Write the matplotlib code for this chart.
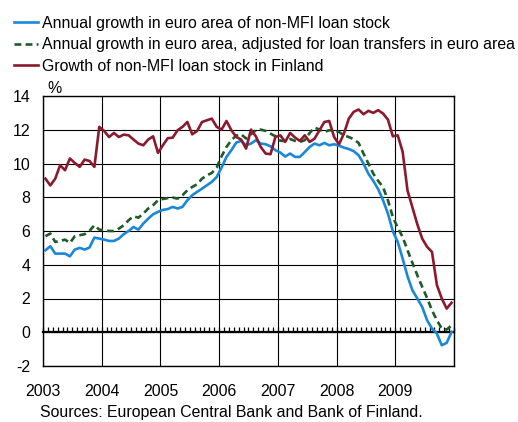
import numpy as np
import matplotlib as mpl
import matplotlib.pyplot as plt
from matplotlib.ticker import FixedLocator, NullFormatter

plt.rcParams['font.family'] = ['Liberation Sans', 'DejaVu Sans']

# monthly data, Jan 2003 - Dec 2009
months = 2003 + (np.arange(84) + 0.5) / 12

euro_area = [4.86, 5.1, 4.66, 4.66, 4.66, 4.5, 4.9, 5.0, 4.9, 5.02, 5.61, 5.55,
             5.49, 5.41, 5.41, 5.55, 5.81, 6.0, 6.24, 6.08, 6.44, 6.73, 6.99, 7.13,
             7.25, 7.3, 7.43, 7.33, 7.43, 7.82, 8.12, 8.32, 8.51, 8.71, 8.91, 9.2,
             9.76, 10.39, 10.79, 11.24, 11.34, 11.08, 11.18, 11.38, 11.18, 11.14, 11.02, 10.79,
             10.65, 10.41, 10.59, 10.39, 10.39, 10.68, 10.98, 11.18, 11.08, 11.22, 11.08, 11.14,
             11.06, 10.94, 10.86, 10.73, 10.49, 10.0, 9.4, 8.97, 8.48, 7.82, 7.03, 5.98,
             5.35, 4.37, 3.32, 2.49, 2.0, 1.5, 0.71, 0.22, -0.08, -0.77, -0.63, 0.02]

euro_adjusted = [5.69, 5.85, 5.35, 5.41, 5.49, 5.29, 5.69, 5.75, 5.81, 6.0, 6.34, 6.08,
                 6.04, 6.0, 6.0, 6.14, 6.34, 6.64, 6.87, 6.79, 7.03, 7.33, 7.53, 7.82,
                 7.9, 7.95, 7.98, 7.92, 8.12, 8.41, 8.61, 8.77, 9.1, 9.3, 9.44, 9.76,
                 10.43, 10.98, 11.38, 11.66, 11.73, 11.48, 11.73, 11.97, 12.01, 11.93, 11.77, 11.61,
                 11.35, 11.33, 11.45, 11.34, 11.28, 11.38, 11.81, 12.13, 12.01, 11.87, 11.97, 11.97,
                 11.87, 11.67, 11.57, 11.44, 11.22, 10.59, 10.0, 9.4, 8.97, 8.6, 7.82, 6.83,
                 6.2, 5.65, 4.86, 4.11, 3.38, 2.69, 2.03, 1.3, 0.71, 0.22, 0.16, 0.41]

finland = [9.1, 8.7, 9.1, 9.9, 9.6, 10.3, 10.03, 9.8, 10.23, 10.15, 9.8, 12.17,
           11.93, 11.57, 11.81, 11.57, 11.71, 11.67, 11.42, 11.18, 11.08, 11.42, 11.61, 10.63,
           11.08, 11.5, 11.53, 11.97, 12.17, 12.46, 11.73, 11.93, 12.46, 12.56, 12.66, 12.17,
           12.01, 12.52, 11.97, 11.57, 11.42, 10.88, 12.01, 11.61, 10.98, 10.59, 10.55, 11.57,
           11.67, 11.28, 11.81, 11.54, 11.34, 11.67, 11.28, 11.47, 11.97, 12.46, 12.52, 11.57,
           11.14, 11.77, 12.66, 13.06, 13.2, 12.92, 13.12, 13.0, 13.16, 12.96, 12.6, 11.61,
           11.67, 10.7, 8.4, 7.4, 6.4, 5.55, 5.06, 4.76, 2.8, 2.0, 1.4, 1.75]

labels = ['Annual growth in euro area of non-MFI loan stock',
          'Annual growth in euro area, adjusted for loan transfers in euro area',
          'Growth of non-MFI loan stock in Finland']
years = list(range(2003, 2011))
year_labels = ['2003', '2004', '2005', '2006', '2007', '2008', '2009', '']
yticks = list(range(-2, 15, 2))

fs = 11.4

fig = plt.figure(figsize=(5.18, 4.22), dpi=100)
ax = fig.add_axes([43/518, 1-366/422, 411/518, 270/422])

ax.plot(months, euro_area, color='#1a88d8', lw=1.9, label=labels[0], zorder=4)
ax.plot(months, euro_adjusted, color='#1f5a28', lw=1.9, ls=(0, (2.6, 1.6)), label=labels[1], zorder=4)
ax.plot(months, finland, color='#8b1a2e', lw=1.9, label=labels[2], zorder=5)

ax.set_xlim(2003, 2010)
ax.set_ylim(-2, 14)
ax.set_xticks(years)
ax.set_xticklabels(year_labels, fontsize=fs)
ax.set_yticks(yticks)
ax.set_yticklabels([str(v) for v in yticks], fontsize=fs)
ax.tick_params(axis='both', length=0)
ax.tick_params(axis='y', pad=9)
ax.tick_params(axis='x', pad=13)
ax.grid(True, color='black', lw=0.8)
ax.set_axisbelow(True)
for s in ax.spines.values():
    s.set_linewidth(1.0)

# zero line with monthly ticks
sec = ax.secondary_xaxis(0, transform=ax.transData)
sec.spines['bottom'].set_linewidth(1.6)
sec.xaxis.set_major_locator(FixedLocator(years))
sec.xaxis.set_minor_locator(FixedLocator(np.arange(2003, 2010.01, 1/12)))
sec.xaxis.set_major_formatter(NullFormatter())
sec.tick_params(which='both', direction='in', length=3.5, width=0.9, labelbottom=False)

ax.text(0.01, 1.0, '%', transform=ax.transAxes, ha='left', va='bottom', fontsize=fs)

fig.legend(loc='upper left', bbox_to_anchor=(14/518, 1-16/422), frameon=False,
           fontsize=fs, handlelength=1.5, handletextpad=0.3, labelspacing=0.4,
           borderpad=0, borderaxespad=0)

fig.text(40/518, 1-413/422, 'Sources: European Central Bank and Bank of Finland.',
         ha='left', va='center', fontsize=fs)

fig.savefig('out.png', dpi=100)
